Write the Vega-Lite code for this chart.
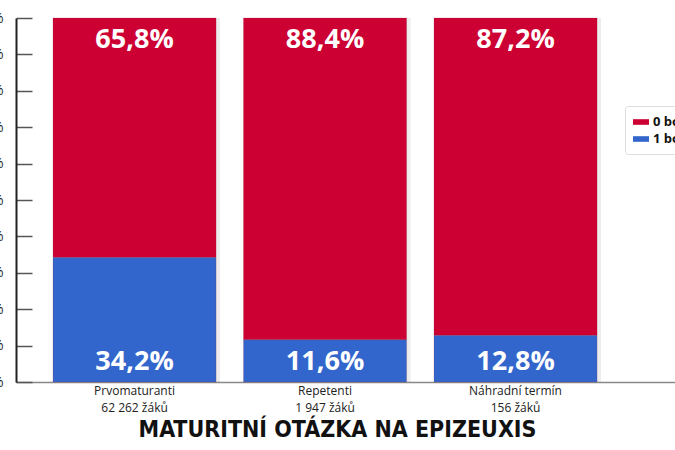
{
  "$schema": "https://vega.github.io/schema/vega-lite/v6.json",
  "autosize": "none",
  "width": 659,
  "height": 364,
  "padding": {"left": 16, "top": 18, "right": 0, "bottom": 68},
  "background": "white",
  "config": {
    "view": {"stroke": null},
    "font": "Open Sans"
  },
  "title": {
    "text": "MATURITNÍ OTÁZKA NA EPIZEUXIS",
    "orient": "bottom",
    "anchor": "middle",
    "font": "DejaVu Sans Condensed",
    "fontWeight": "bold",
    "fontSize": 23,
    "color": "#111",
    "offset": 6,
    "dx": -8
  },
  "data": {
    "values": [
      {"skupina": "Prvomaturanti|62 262 žáků", "odpoved": "0 bodů", "podil": 65.8},
      {"skupina": "Prvomaturanti|62 262 žáků", "odpoved": "1 bod", "podil": 34.2},
      {"skupina": "Repetenti|1 947 žáků", "odpoved": "0 bodů", "podil": 88.4},
      {"skupina": "Repetenti|1 947 žáků", "odpoved": "1 bod", "podil": 11.6},
      {"skupina": "Náhradní termín|156 žáků", "odpoved": "0 bodů", "podil": 87.2},
      {"skupina": "Náhradní termín|156 žáků", "odpoved": "1 bod", "podil": 12.8}
    ]
  },
  "transform": [
    {"calculate": "replace(format(datum.podil, '.1f'), '.', ',') + '%'", "as": "popisek"}
  ],
  "encoding": {
    "x": {
      "field": "skupina",
      "type": "nominal",
      "sort": null,
      "title": null,
      "scale": {"paddingInner": 0.144, "paddingOuter": 0.3017, "align": 0.322},
      "axis": {
        "labelAngle": 0,
        "labelExpr": "split(datum.label, '|')",
        "labelFontSize": 12,
        "labelColor": "#222",
        "labelLineHeight": 17,
        "labelPadding": 3,
        "ticks": false,
        "domainColor": "#888",
        "domainWidth": 1.5
      }
    },
    "y": {
      "field": "podil",
      "type": "quantitative",
      "stack": "zero",
      "title": null,
      "scale": {"domain": [0, 100]},
      "axis": {
        "values": [0, 10, 20, 30, 40, 50, 60, 70, 80, 90, 100],
        "labelExpr": "datum.value + ' %'",
        "labelFontSize": 14,
        "labelColor": "#222",
        "labelOverlap": false,
        "labelBound": false,
        "tickSize": -16,
        "tickColor": "#555",
        "tickWidth": 1.5,
        "labelPadding": 29,
        "domain": true,
        "domainColor": "#222",
        "domainWidth": 2,
        "grid": false
      }
    }
  },
  "layer": [
    {
      "mark": {"type": "bar", "xOffset": 4, "color": "#000", "opacity": 0.07},
      "transform": [{"filter": "datum.odpoved == '0 bodů'"}],
      "encoding": {
        "y": {"datum": 100, "type": "quantitative"},
        "y2": {"datum": 0}
      }
    },
    {
      "mark": {"type": "bar", "stroke": "#8a1a30", "strokeWidth": 0.4, "strokeOpacity": 0.5},
      "encoding": {
        "color": {
          "field": "odpoved",
          "type": "nominal",
          "scale": {"domain": ["0 bodů", "1 bod"], "range": ["#CC0033", "#3366CC"]},
          "legend": {
            "title": null,
            "orient": "none",
            "legendX": 609,
            "legendY": 88,
            "labelFont": "Open Sans",
            "labelFontWeight": "bold",
            "labelFontSize": 13,
            "labelColor": "#111",
            "symbolType": "M-1,-0.35H1V0.35H-1Z",
            "symbolSize": 256,
            "symbolStrokeWidth": 0,
            "rowPadding": 2,
            "padding": 8,
            "strokeColor": "#ddd",
            "fillColor": "white",
            "cornerRadius": 3
          }
        },
        "order": {"field": "odpoved", "sort": "descending"}
      }
    },
    {
      "mark": {"type": "text", "color": "white", "fontSize": 27, "fontWeight": "bold", "baseline": "middle", "dy": 22},
      "transform": [{"filter": "datum.odpoved == '0 bodů'"}],
      "encoding": {
        "y": {"datum": 100, "type": "quantitative"},
        "text": {"field": "popisek"}
      }
    },
    {
      "mark": {"type": "text", "color": "white", "fontSize": 27, "fontWeight": "bold", "baseline": "middle", "dy": -20},
      "transform": [{"filter": "datum.odpoved == '1 bod'"}],
      "encoding": {
        "y": {"datum": 0, "type": "quantitative"},
        "text": {"field": "popisek"}
      }
    }
  ]
}
